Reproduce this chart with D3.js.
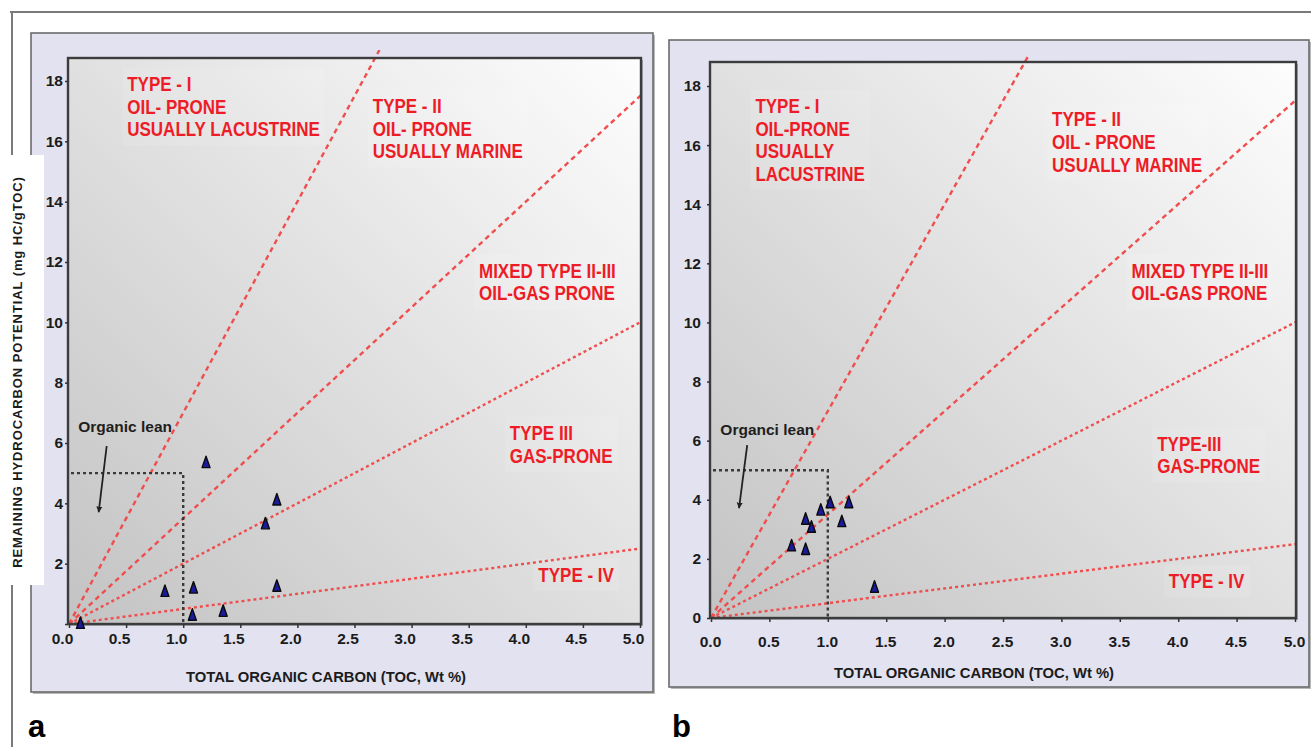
<!DOCTYPE html>
<html>
<head>
<meta charset="utf-8">
<script src="https://cdn.jsdelivr.net/npm/d3@7/dist/d3.min.js"></script>
<style>
  html, body { margin: 0; padding: 0; background: #fff; }
  svg { display: block; font-family: "Liberation Sans", Arial, sans-serif; }
</style>
</head>
<body>
<svg id="chart" width="1311" height="747"></svg>
<script>
// samples, panel a (TOC wt%, S2 mg HC/g rock)
const tocA = [0.10, 0.84, 1.09, 1.08, 1.35, 1.20, 1.82, 1.72, 1.82];
const s2A  = [0.02, 1.08, 1.19, 0.29, 0.42, 5.35, 4.11, 3.32, 1.25];

// samples, panel b
const tocB = [0.69, 0.81, 0.81, 0.86, 0.94, 1.02, 1.12, 1.18, 1.40];
const s2B  = [2.44, 2.32, 3.34, 3.07, 3.65, 3.90, 3.26, 3.90, 1.04];

const xTicks = [0, 0.5, 1, 1.5, 2, 2.5, 3, 3.5, 4, 4.5, 5];
const yTicks = [0, 2, 4, 6, 8, 10, 12, 14, 16, 18];

// kerogen type boundaries as hydrogen index (mg HC/g TOC)
const hiLines = [700, 350, 200, 50];
// organic lean cut-offs
const leanToc = 1.0;
const leanS2 = 5.0;

const zoneTextA = [
  ['TYPE - I', 'OIL- PRONE', 'USUALLY LACUSTRINE'],
  ['TYPE - II', 'OIL- PRONE', 'USUALLY MARINE'],
  ['MIXED TYPE II-III', 'OIL-GAS PRONE'],
  ['TYPE III', 'GAS-PRONE'],
  ['TYPE - IV']
];
const zoneTextB = [
  ['TYPE - I', 'OIL-PRONE', 'USUALLY', 'LACUSTRINE'],
  ['TYPE - II', 'OIL - PRONE', 'USUALLY MARINE'],
  ['MIXED TYPE II-III', 'OIL-GAS PRONE'],
  ['TYPE-III', 'GAS-PRONE'],
  ['TYPE - IV']
];

const colors = {
  frame: '#7a7a7a',
  box: '#e2e2f0',
  boxEdge: '#6c6c6c',
  plotEdge: '#3c3c3c',
  text: '#1b1b1b',
  red: '#ee1c26',
  line: '#f04e4e',
  lean: '#3a3a3a',
  marker: '#1a1a9c'
};

const svg = d3.select('#chart');
const defs = svg.append('defs');

const grad = defs.append('linearGradient')
  .attr('id', 'plotBg')
  .attr('x1', 0).attr('y1', 1).attr('x2', 1).attr('y2', 0);
grad.append('stop').attr('offset', '0%').attr('stop-color', '#c3c3c3');
grad.append('stop').attr('offset', '50%').attr('stop-color', '#e0e0e0');
grad.append('stop').attr('offset', '100%').attr('stop-color', '#fdfdfd');

defs.append('marker')
  .attr('id', 'arrow')
  .attr('viewBox', '0 0 10 10')
  .attr('refX', 9).attr('refY', 5)
  .attr('markerWidth', 6).attr('markerHeight', 8)
  .attr('markerUnits', 'userSpaceOnUse')
  .attr('orient', 'auto')
  .append('path')
  .attr('d', 'M0,0L10,5L0,10Z')
  .attr('fill', '#222');

// outer figure frame
svg.append('line').attr('x1', 10).attr('y1', 12).attr('x2', 1311).attr('y2', 12)
  .attr('stroke', colors.frame).attr('stroke-width', 2);
svg.append('line').attr('x1', 12).attr('y1', 11).attr('x2', 12).attr('y2', 747)
  .attr('stroke', colors.frame).attr('stroke-width', 2);

const panels = [
  {
    toc: tocA, s2: s2A, zones: zoneTextA, letter: 'a',
    box: { x: 31, y: 33, w: 622, h: 659 },
    plot: { l: 68, r: 641, t: 58, b: 624 },
    xRange: [69, 640], yRange: [624, 81],
    xLabelGap: 9, xLabelDx: -7, yLabelGap: 4, showZeroY: false,
    zonePos: [[0.51, 17.66], [2.66, 16.93], [3.59, 11.48], [3.86, 6.10], [4.11, 1.40]],
    leanLabel: 'Organic lean', leanPos: [0.08, 6.36],
    arrow: [[0.33, 5.9], [0.26, 3.71]],
    title: { x: 326, y: 682 },
    letterPos: { x: 28, y: 737 }
  },
  {
    toc: tocB, s2: s2B, zones: zoneTextB, letter: 'b',
    box: { x: 669, y: 40, w: 640, h: 647 },
    plot: { l: 710, r: 1296, t: 62, b: 618 },
    xRange: [711, 1295], yRange: [618, 86],
    xLabelGap: 18, xLabelDx: -1, yLabelGap: 8, showZeroY: true,
    zonePos: [[0.38, 17.08], [2.92, 16.63], [3.60, 11.52], [3.82, 5.66], [3.92, 1.01]],
    leanLabel: 'Organci lean', leanPos: [0.08, 6.19],
    arrow: [[0.31, 5.85], [0.24, 3.72]],
    title: { x: 974, y: 678 },
    letterPos: { x: 672, y: 737 }
  }
];

panels.forEach(drawPanel);

// y-axis title on its white strip (panel a only)
svg.append('rect').attr('x', 0).attr('y', 155).attr('width', 44).attr('height', 430).attr('fill', '#fff');
svg.append('text')
  .attr('transform', 'translate(22,372) rotate(-90)')
  .attr('text-anchor', 'middle')
  .attr('font-size', 13)
  .attr('font-weight', 'bold')
  .attr('letter-spacing', 0.9)
  .attr('fill', colors.text)
  .text('REMAINING HYDROCARBON POTENTIAL (mg HC/gTOC)');

function drawPanel(p) {
  const g = svg.append('g');
  const x = d3.scaleLinear().domain([0, 5]).range(p.xRange);
  const y = d3.scaleLinear().domain([0, 18]).range(p.yRange);
  const pw = p.plot.r - p.plot.l, ph = p.plot.b - p.plot.t;

  // lavender chart box with a soft shadow
  g.append('rect')
    .attr('x', p.box.x + 2).attr('y', p.box.y + 2)
    .attr('width', p.box.w).attr('height', p.box.h)
    .attr('fill', '#b8b8b8');
  g.append('rect')
    .attr('x', p.box.x).attr('y', p.box.y)
    .attr('width', p.box.w).attr('height', p.box.h)
    .attr('fill', colors.box)
    .attr('stroke', colors.boxEdge).attr('stroke-width', 1.6);

  // plot area
  g.append('rect')
    .attr('x', p.plot.l + 2).attr('y', p.plot.t + 2)
    .attr('width', pw).attr('height', ph)
    .attr('fill', '#a9a9b4');
  g.append('rect')
    .attr('x', p.plot.l).attr('y', p.plot.t)
    .attr('width', pw).attr('height', ph)
    .attr('fill', 'url(#plotBg)');

  const clipId = 'clip-' + p.letter;
  defs.append('clipPath').attr('id', clipId)
    .append('rect')
    .attr('x', p.plot.l).attr('y', p.plot.t - 8)
    .attr('width', pw).attr('height', ph + 8);

  // faint label patches, like the pasted text boxes of the original
  const zoneG = g.append('g');

  // kerogen boundary lines through the origin
  const xMax = x.invert(p.plot.r), yMax = y.invert(p.plot.t - 8);
  g.append('g').attr('clip-path', `url(#${clipId})`)
    .selectAll('line')
    .data(hiLines)
    .join('line')
    .attr('x1', x(0)).attr('y1', y(0))
    .attr('x2', hi => x(Math.min(xMax, yMax / (hi / 100))))
    .attr('y2', hi => y(Math.min(xMax, yMax / (hi / 100)) * hi / 100))
    .attr('stroke', colors.line)
    .attr('stroke-width', 2.4)
    .attr('stroke-dasharray', (hi, i) => i < 2 ? '5,4' : '3,3');

  // organic lean window
  g.append('path')
    .attr('d', d3.line()([[x(0) + 2, y(leanS2)], [x(leanToc), y(leanS2)], [x(leanToc), y(0)]]))
    .attr('fill', 'none')
    .attr('stroke', colors.lean)
    .attr('stroke-width', 2.4)
    .attr('stroke-dasharray', '3,3');

  g.append('line')
    .attr('x1', x(p.arrow[0][0])).attr('y1', y(p.arrow[0][1]))
    .attr('x2', x(p.arrow[1][0])).attr('y2', y(p.arrow[1][1]))
    .attr('stroke', '#222').attr('stroke-width', 1.8)
    .attr('marker-end', 'url(#arrow)');

  g.append('text')
    .attr('x', x(p.leanPos[0])).attr('y', y(p.leanPos[1]))
    .attr('font-size', 15.5)
    .attr('font-weight', 'bold')
    .attr('fill', '#1e1e1e')
    .text(p.leanLabel);

  // plot border
  g.append('rect')
    .attr('x', p.plot.l).attr('y', p.plot.t)
    .attr('width', pw).attr('height', ph)
    .attr('fill', 'none')
    .attr('stroke', colors.plotEdge).attr('stroke-width', 2.4);

  // axes
  const xAxis = g.append('g')
    .attr('transform', `translate(0,${p.plot.b})`)
    .call(d3.axisBottom(x).tickValues(xTicks).tickFormat(d3.format('.1f'))
      .tickSize(4).tickPadding(p.xLabelGap - 4));
  xAxis.select('.domain').remove();
  xAxis.selectAll('line').attr('stroke', '#333').attr('stroke-width', 1.5);
  xAxis.selectAll('text')
    .attr('dx', p.xLabelDx)
    .attr('font-size', 15.5).attr('font-weight', 'bold')
    .attr('font-family', '"Liberation Sans", Arial, sans-serif')
    .attr('fill', colors.text);

  const yAxis = g.append('g')
    .attr('transform', `translate(${p.plot.l},0)`)
    .call(d3.axisLeft(y).tickValues(yTicks).tickFormat(d3.format('d'))
      .tickSize(3).tickPadding(p.yLabelGap - 2));
  yAxis.select('.domain').remove();
  yAxis.selectAll('line').attr('stroke', '#333').attr('stroke-width', 1.5);
  yAxis.selectAll('text')
    .attr('font-size', 15.5).attr('font-weight', 'bold')
    .attr('font-family', '"Liberation Sans", Arial, sans-serif')
    .attr('fill', colors.text)
    .attr('opacity', d => (d === 0 && !p.showZeroY) ? 0 : 1);

  // samples
  const pts = p.toc.map((t, i) => [t, p.s2[i]]);
  g.append('g')
    .selectAll('path')
    .data(pts)
    .join('path')
    .attr('transform', d => `translate(${x(d[0])},${y(d[1])})`)
    .attr('d', 'M0,-6.5L4,5L-4,5Z')
    .attr('fill', colors.marker)
    .attr('stroke', '#0a0a0a')
    .attr('stroke-width', 1.4)
    .attr('stroke-linejoin', 'round');

  // zone labels
  p.zones.forEach((lines, i) => {
    const [zx, zy] = p.zonePos[i];
    const t = zoneG.append('text')
      .attr('transform', `translate(${x(zx)},${y(zy)}) scale(0.85,1)`)
      .attr('font-size', 20)
      .attr('font-weight', 'bold')
      .attr('fill', colors.red);
    lines.forEach((s, k) => {
      t.append('tspan').attr('x', 0).attr('y', k * 22.6).text(s);
    });
    const bb = t.node().getBBox();
    zoneG.insert('rect', 'text')
      .attr('x', x(zx) - 5).attr('y', y(zy) + bb.y - 5)
      .attr('width', bb.width * 0.85 + 10).attr('height', bb.height + 10)
      .attr('fill', '#fff').attr('opacity', 0.1);
  });

  // x-axis title
  g.append('text')
    .attr('x', p.title.x).attr('y', p.title.y)
    .attr('text-anchor', 'middle')
    .attr('font-size', 14.8)
    .attr('font-weight', 'bold')
    .attr('fill', colors.text)
    .text('TOTAL ORGANIC CARBON (TOC, Wt %)');

  // panel letter
  svg.append('text')
    .attr('x', p.letterPos.x).attr('y', p.letterPos.y)
    .attr('font-size', 31)
    .attr('font-weight', 'bold')
    .attr('fill', '#000')
    .text(p.letter);
}
</script>
</body>
</html>
